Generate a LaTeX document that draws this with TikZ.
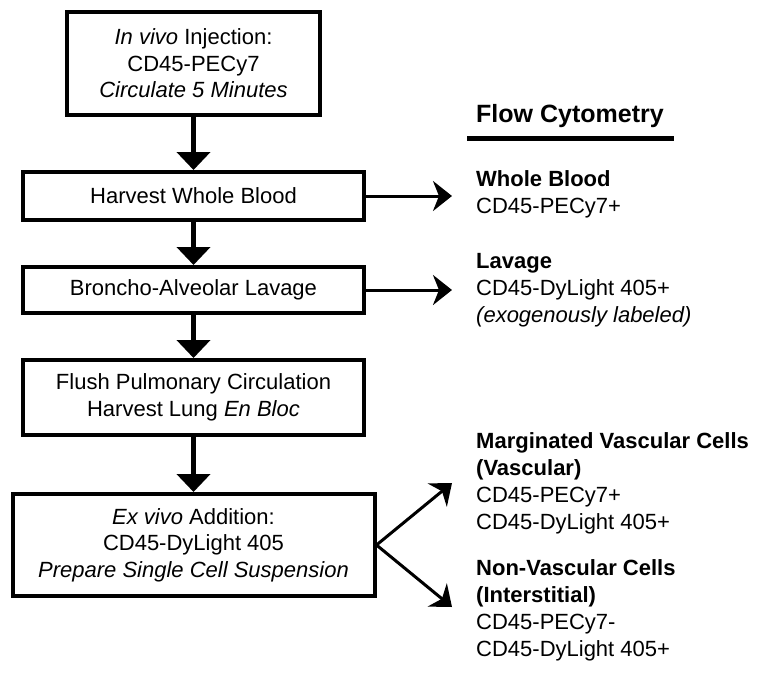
\documentclass[tikz,border=0pt]{standalone}
\usepackage{fontspec}
\setmainfont{Liberation Sans}
\usetikzlibrary{positioning,arrows.meta}

\begin{document}
\begin{tikzpicture}[
    x=1pt, y=-1pt,
    node distance=43pt,
    stage/.style={rectangle, draw=black, line width=4pt, minimum width=341pt, align=center, inner sep=0pt, font=\fontsize{22}{26.5}\selectfont},
    readout/.style={anchor=west, align=left, inner sep=0pt, font=\fontsize{22}{26.8}\selectfont},
    flow/.style={-{Triangle[width=33pt,length=18pt]}, line width=5pt},
    branch/.style={-{Stealth[width=30pt,length=19pt,inset=6pt]}, line width=3pt}
]
    \useasboundingbox (0,0) rectangle (762,672);

    % sample preparation steps
    \node[stage, minimum width=253pt, minimum height=103pt] (inject) at (193.5,63.5) {\textit{In vivo} Injection:\\CD45-PECy7\\\textit{Circulate 5 Minutes}};
    \node[stage, minimum height=48pt, below=53pt of inject] (blood) {Harvest Whole Blood};
    \node[stage, minimum height=46pt, below=of blood] (lavage) {Broncho-Alveolar Lavage};
    \node[stage, minimum height=75pt, below=of lavage] (lung) {Flush Pulmonary Circulation\\Harvest Lung \textit{En Bloc}};
    \node[stage, minimum width=362pt, minimum height=102pt, below=55pt of lung] (exvivo) {\textit{Ex vivo} Addition:\\CD45-DyLight 405\\\textit{Prepare Single Cell Suspension}};

    \draw[flow] (inject) -- (blood);
    \draw[flow] (blood) -- (lavage);
    \draw[flow] (lavage) -- (lung);
    \draw[flow] (lung) -- (exvivo);

    % flow cytometry read-outs
    \node[anchor=west, inner sep=0pt, font=\fontsize{25}{30}\selectfont\bfseries] (flowhead) at (476,116) {Flow Cytometry};
    \draw[line width=5pt] (467,138) -- (674,138);

    \node[readout] (wholeblood) at (476,194.5) {\textbf{Whole Blood}\\CD45-PECy7+};
    \node[readout] (lavagecells) at (476,290) {\textbf{Lavage}\\CD45-DyLight 405+\\\textit{(exogenously labeled)}};
    \node[readout] (vascular) at (476,483.5) {\textbf{Marginated Vascular Cells}\\\textbf{(Vascular)}\\CD45-PECy7+\\CD45-DyLight 405+};
    \node[readout] (interstitial) at (476,610.5) {\textbf{Non-Vascular Cells}\\\textbf{(Interstitial)}\\CD45-PECy7-\\CD45-DyLight 405+};

    \coordinate (bloodtip) at (452,196);
    \coordinate (lavagetip) at (452,290);
    \coordinate (vasctip) at (452,483);
    \coordinate (intertip) at (452,607);

    \draw[branch] (blood.east) -- (bloodtip);
    \draw[branch] (lavage.east) -- (lavagetip);
    \draw[branch] (exvivo.east) -- (vasctip);
    \draw[branch] (exvivo.east) -- (intertip);
\end{tikzpicture}
\end{document}
